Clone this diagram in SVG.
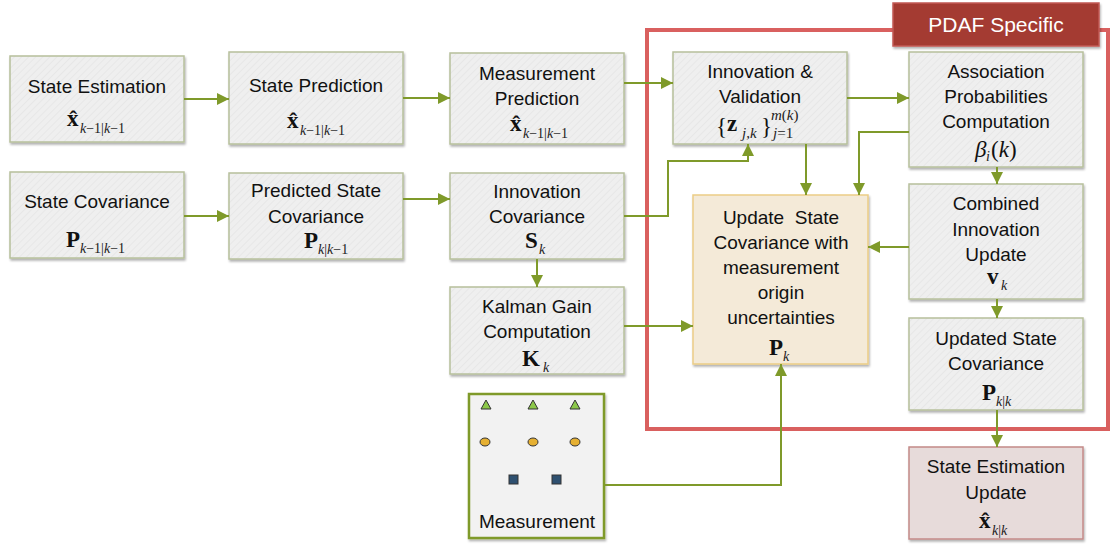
<svg xmlns="http://www.w3.org/2000/svg" width="1110" height="547" viewBox="0 0 1110 547">
  <defs>
    <pattern id="hatch" width="5" height="5" patternUnits="userSpaceOnUse" patternTransform="rotate(45)">
      <rect width="5" height="5" fill="#efefef"/>
      <line x1="0" y1="0" x2="0" y2="5" stroke="#e5e5e5" stroke-width="1.5"/>
    </pattern>
    <filter id="shadow" x="-10%" y="-10%" width="125%" height="130%">
      <feDropShadow dx="1" dy="2" stdDeviation="1.2" flood-color="#000" flood-opacity="0.3"/>
    </filter>
    <marker id="arr" viewBox="0 0 12 12" refX="12" refY="6" markerWidth="12" markerHeight="12" markerUnits="userSpaceOnUse" orient="auto">
      <path d="M0,0 L12,6 L0,12 z" fill="#7f9a2a"/>
    </marker>
    <style>
      .box { fill: url(#hatch); stroke: #b7c09c; stroke-width: 1.5; filter: url(#shadow); }
      .upd { fill: #f4ead8; stroke: #ebcd86; stroke-width: 1.5; filter: url(#shadow); }
      .meas { fill: #f2f2f2; stroke: #7f9a2a; stroke-width: 2.5; filter: url(#shadow); }
      .est { fill: #e7dbda; stroke: #c48a88; stroke-width: 1.5; filter: url(#shadow); }
      .lbl { font-family: "Liberation Sans", Arial, sans-serif; font-size: 19px; fill: #111; text-anchor: middle; }
      .m { font-family: "Liberation Serif", "Times New Roman", serif; font-size: 23px; fill: #111; }
      .mb { font-weight: bold; }
      .sub { font-family: "Liberation Serif", "Times New Roman", serif; font-size: 14px; fill: #222; }
      .sup { font-family: "Liberation Serif", "Times New Roman", serif; font-size: 15px; fill: #222; }
      .it { font-style: italic; }
      .conn { fill: none; stroke: #7f9a2a; stroke-width: 2; }
    </style>
  </defs>

  <!-- PDAF-specific region -->
  <g id="pdaf-region">
    <rect x="647" y="30" width="461" height="399" fill="none" stroke="#d9605f" stroke-width="4"/>
    <rect x="893" y="3" width="206" height="43" fill="#a43a33" stroke="#c25a55" stroke-width="1.5" filter="url(#shadow)"/>
    <text x="996" y="32" font-family="Liberation Sans, Arial, sans-serif" font-size="21" fill="#ffffff" text-anchor="middle">PDAF Specific</text>
  </g>

  <!-- State Estimation -->
  <g id="state-estimation">
    <rect class="box" x="10" y="56" width="174" height="86"/>
    <text class="lbl" x="97" y="93">State Estimation</text>
    <text class="m mb" x="67" y="126">x&#x302;</text>
    <text class="sub" x="80" y="133"><tspan class="it">k</tspan>−1|<tspan class="it">k</tspan>−1</text>
  </g>

  <!-- State Prediction -->
  <g id="state-prediction">
    <rect class="box" x="229" y="52" width="174" height="92"/>
    <text class="lbl" x="316" y="92">State Prediction</text>
    <text class="m mb" x="287" y="128">x&#x302;</text>
    <text class="sub" x="300" y="135"><tspan class="it">k</tspan>−1|<tspan class="it">k</tspan>−1</text>
  </g>

  <!-- State Covariance -->
  <g id="state-covariance">
    <rect class="box" x="10" y="172" width="174" height="86"/>
    <text class="lbl" x="97" y="208">State Covariance</text>
    <text class="m mb" x="66" y="247">P</text>
    <text class="sub" x="80" y="253"><tspan class="it">k</tspan>−1|<tspan class="it">k</tspan>−1</text>
  </g>

  <!-- Predicted State Covariance -->
  <g id="predicted-state-covariance">
    <rect class="box" x="229" y="173" width="174" height="86"/>
    <text class="lbl" x="316" y="197">Predicted State</text>
    <text class="lbl" x="316" y="223">Covariance</text>
    <text class="m mb" x="304" y="248">P</text>
    <text class="sub" x="318" y="254"><tspan class="it">k</tspan>|<tspan class="it">k</tspan>−1</text>
  </g>

  <!-- Measurement Prediction -->
  <g id="measurement-prediction">
    <rect class="box" x="450" y="53" width="174" height="91"/>
    <text class="lbl" x="537" y="80">Measurement</text>
    <text class="lbl" x="537" y="105">Prediction</text>
    <text class="m mb" x="510" y="131">x&#x302;</text>
    <text class="sub" x="523" y="138"><tspan class="it">k</tspan>−1|<tspan class="it">k</tspan>−1</text>
  </g>

  <!-- Innovation Covariance -->
  <g id="innovation-covariance">
    <rect class="box" x="450" y="173" width="174" height="86"/>
    <text class="lbl" x="537" y="198">Innovation</text>
    <text class="lbl" x="537" y="223">Covariance</text>
    <text class="m mb" x="525" y="248">S</text>
    <text class="sub it" x="539" y="254">k</text>
  </g>

  <!-- Kalman Gain Computation -->
  <g id="kalman-gain">
    <rect class="box" x="450" y="287" width="174" height="87"/>
    <text class="lbl" x="537" y="313">Kalman Gain</text>
    <text class="lbl" x="537" y="338">Computation</text>
    <text class="m mb" x="522" y="366">K</text>
    <text class="sub it" x="543" y="372">k</text>
  </g>

  <!-- Measurement -->
  <g id="measurement">
    <rect class="meas" x="469" y="394" width="135" height="144"/>
    <g stroke="#333" stroke-width="1">
      <path d="M486,400 L491,409 L481,409 Z" fill="#8cc84a"/>
      <path d="M533,400 L538,409 L528,409 Z" fill="#8cc84a"/>
      <path d="M575,400 L580,409 L570,409 Z" fill="#8cc84a"/>
      <ellipse cx="485" cy="442" rx="5" ry="4" fill="#e6b032"/>
      <ellipse cx="533" cy="442" rx="5" ry="4" fill="#e6b032"/>
      <ellipse cx="575" cy="442" rx="5" ry="4" fill="#e6b032"/>
      <rect x="509" y="475" width="9" height="9" fill="#2e5070"/>
      <rect x="552" y="475" width="9" height="9" fill="#2e5070"/>
    </g>
    <text class="lbl" x="537" y="528">Measurement</text>
  </g>

  <!-- Innovation & Validation -->
  <g id="innovation-validation">
    <rect class="box" x="673" y="52" width="174" height="92"/>
    <text class="lbl" x="760" y="78">Innovation &amp;</text>
    <text class="lbl" x="760" y="103">Validation</text>
    <text class="m" x="716" y="134">{</text>
    <text class="m mb" x="727" y="131">z</text>
    <text class="sup it" x="742" y="138">j,k</text>
    <text class="m" x="761" y="134">}</text>
    <text class="sup it" x="771" y="120">m<tspan font-style="normal">(</tspan>k<tspan font-style="normal">)</tspan></text>
    <text class="sup" x="773" y="138"><tspan class="it">j</tspan>=1</text>
  </g>

  <!-- Association Probabilities Computation -->
  <g id="association-probabilities">
    <rect class="box" x="909" y="52" width="174" height="115"/>
    <text class="lbl" x="996" y="78">Association</text>
    <text class="lbl" x="996" y="103">Probabilities</text>
    <text class="lbl" x="996" y="128">Computation</text>
    <text class="m it" x="975" y="157">β</text>
    <text class="sub it" x="986" y="161" font-size="11">i</text>
    <text class="m" x="991" y="157">(<tspan font-style="italic">k</tspan>)</text>
  </g>

  <!-- Combined Innovation Update -->
  <g id="combined-innovation">
    <rect class="box" x="909" y="184" width="174" height="115"/>
    <text class="lbl" x="996" y="210">Combined</text>
    <text class="lbl" x="996" y="236">Innovation</text>
    <text class="lbl" x="996" y="261">Update</text>
    <text class="m mb" x="987" y="284">v</text>
    <text class="sub it" x="1001" y="290">k</text>
  </g>

  <!-- Updated State Covariance -->
  <g id="updated-state-covariance">
    <rect class="box" x="909" y="318" width="174" height="92"/>
    <text class="lbl" x="996" y="345">Updated State</text>
    <text class="lbl" x="996" y="370">Covariance</text>
    <text class="m mb" x="982" y="400">P</text>
    <text class="sub" x="996" y="406"><tspan class="it">k</tspan>|<tspan class="it">k</tspan></text>
  </g>

  <!-- Update State Covariance with measurement origin uncertainties -->
  <g id="update-state-covariance">
    <rect class="upd" x="693" y="195" width="175" height="169"/>
    <text class="lbl" x="781" y="224" xml:space="preserve">Update  State</text>
    <text class="lbl" x="781" y="249">Covariance with</text>
    <text class="lbl" x="781" y="274">measurement</text>
    <text class="lbl" x="781" y="299">origin</text>
    <text class="lbl" x="781" y="324">uncertainties</text>
    <text class="m mb" x="769" y="355">P</text>
    <text class="sub it" x="783" y="361">k</text>
  </g>

  <!-- State Estimation Update -->
  <g id="state-estimation-update">
    <rect class="est" x="909" y="447" width="174" height="92"/>
    <text class="lbl" x="996" y="473">State Estimation</text>
    <text class="lbl" x="996" y="499">Update</text>
    <text class="m mb" x="979" y="528">x&#x302;</text>
    <text class="sub" x="992" y="535"><tspan class="it">k</tspan>|<tspan class="it">k</tspan></text>
  </g>

  <!-- Connectors -->
  <g id="connectors" class="conn" marker-end="url(#arr)">
    <path d="M184,99 H229"/>
    <path d="M403,98 H450"/>
    <path d="M184,216 H229"/>
    <path d="M403,199 H450"/>
    <path d="M624,83 H673"/>
    <path d="M624,216 H668 V161 H748 V144"/>
    <path d="M537,259 V287"/>
    <path d="M624,326 H693"/>
    <path d="M604,485 H781 V364"/>
    <path d="M806,144 V195"/>
    <path d="M909,132 H859 V195"/>
    <path d="M847,98 H909"/>
    <path d="M997,167 V184"/>
    <path d="M909,247 H868"/>
    <path d="M997,299 V318"/>
    <path d="M997,410 V447"/>
  </g>
</svg>
